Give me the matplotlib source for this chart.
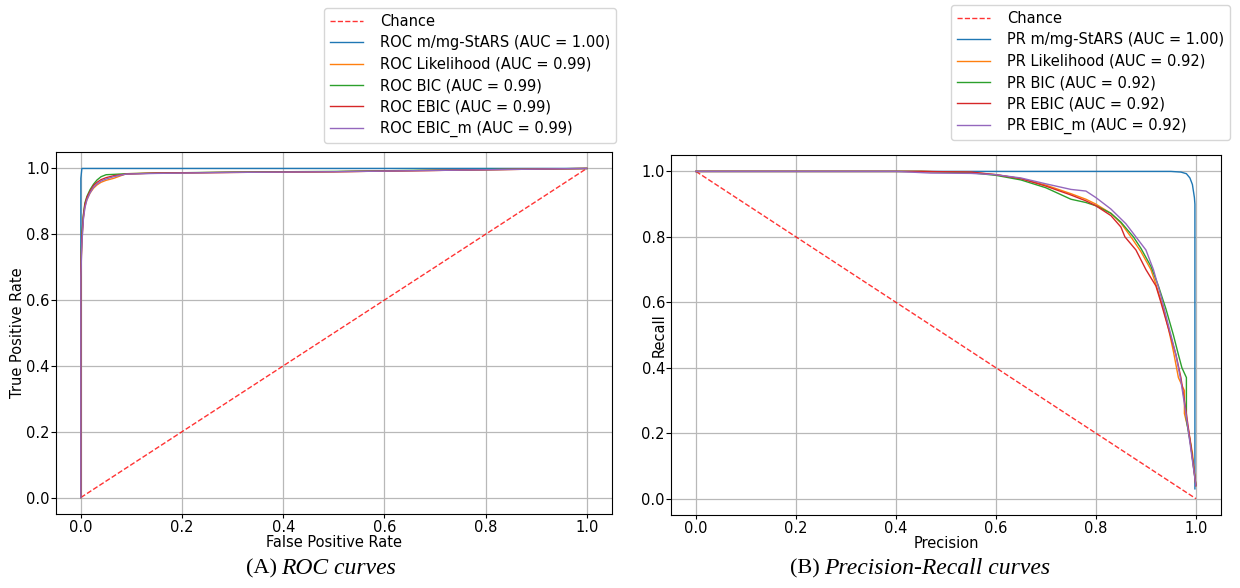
import matplotlib
matplotlib.use("Agg")
import matplotlib.pyplot as plt

# ---- ROC data (false positive rate -> true positive rate) ----
roc_fpr_stars = [0.0, 0.0, 0.002, 1.0]
roc_tpr_stars = [0.0, 0.97, 1.0, 1.0]

roc_fpr = [0.0, 0.0, 0.002, 0.005, 0.008, 0.012, 0.018, 0.025, 0.032, 0.04,
           0.05, 0.065, 0.09, 0.15, 0.3, 0.5, 0.7, 1.0]
roc_tpr_lik = [0.0, 0.68, 0.78, 0.85, 0.885, 0.905, 0.925, 0.94, 0.95, 0.958,
               0.964, 0.970, 0.984, 0.986, 0.988, 0.990, 0.994, 1.0]
roc_tpr_bic = [0.0, 0.70, 0.80, 0.86, 0.895, 0.915, 0.935, 0.952, 0.965, 0.975,
               0.981, 0.982, 0.984, 0.986, 0.989, 0.991, 0.995, 1.0]
roc_tpr_ebic = [0.0, 0.69, 0.79, 0.855, 0.89, 0.912, 0.93, 0.948, 0.958, 0.966,
                0.972, 0.978, 0.983, 0.986, 0.988, 0.990, 0.994, 1.0]
roc_tpr_ebicm = [0.0, 0.67, 0.77, 0.845, 0.88, 0.905, 0.925, 0.943, 0.953, 0.962,
                 0.968, 0.975, 0.983, 0.985, 0.988, 0.990, 0.994, 1.0]

# ---- PR data (precision -> recall) ----
pr_prec_stars = [0.0, 0.95, 0.97, 0.981, 0.988, 0.993, 0.997, 0.998, 0.998]
pr_rec_stars = [1.0, 1.0, 0.998, 0.993, 0.98, 0.96, 0.92, 0.90, 0.03]

pr_prec_lik = [0.0, 0.45, 0.55, 0.60, 0.65, 0.70, 0.75, 0.78, 0.80, 0.83, 0.85,
               0.87, 0.89, 0.91, 0.92, 0.935, 0.945, 0.955, 0.965, 0.977, 0.977,
               0.985, 0.993, 1.0]
pr_rec_lik = [1.0, 1.0, 0.997, 0.99, 0.978, 0.958, 0.932, 0.915, 0.9, 0.872, 0.842,
              0.80, 0.755, 0.70, 0.655, 0.58, 0.52, 0.45, 0.37, 0.33, 0.26,
              0.21, 0.14, 0.04]
pr_prec_bic = [0.0, 0.45, 0.55, 0.60, 0.65, 0.70, 0.75, 0.78, 0.80, 0.83, 0.85,
               0.875, 0.89, 0.91, 0.925, 0.94, 0.955, 0.965, 0.972, 0.981, 0.981,
               0.99, 1.0]
pr_rec_bic = [1.0, 1.0, 0.996, 0.988, 0.974, 0.95, 0.915, 0.905, 0.895, 0.872, 0.845,
              0.80, 0.765, 0.71, 0.65, 0.58, 0.50, 0.44, 0.40, 0.37, 0.24,
              0.16, 0.04]
pr_prec_ebic = [0.0, 0.45, 0.55, 0.60, 0.65, 0.70, 0.75, 0.78, 0.80, 0.83, 0.85,
                0.858, 0.88, 0.90, 0.92, 0.93, 0.945, 0.96, 0.97, 0.98, 0.99, 1.0]
pr_rec_ebic = [1.0, 1.0, 0.998, 0.99, 0.978, 0.955, 0.928, 0.91, 0.895, 0.865, 0.83,
               0.80, 0.76, 0.70, 0.65, 0.60, 0.52, 0.44, 0.37, 0.27, 0.16, 0.04]
pr_prec_ebicm = [0.0, 0.40, 0.47, 0.55, 0.60, 0.65, 0.70, 0.75, 0.78, 0.80, 0.83,
                 0.86, 0.885, 0.90, 0.915, 0.93, 0.945, 0.96, 0.97, 0.98, 0.99, 1.0]
pr_rec_ebicm = [1.0, 1.0, 0.995, 0.994, 0.99, 0.98, 0.962, 0.945, 0.94, 0.92, 0.885,
                0.84, 0.79, 0.76, 0.70, 0.62, 0.53, 0.44, 0.36, 0.26, 0.15, 0.04]

roc_labels = ["ROC m/mg-StARS (AUC = 1.00)", "ROC Likelihood (AUC = 0.99)",
              "ROC BIC (AUC = 0.99)", "ROC EBIC (AUC = 0.99)",
              "ROC EBIC_m (AUC = 0.99)"]
pr_labels = ["PR m/mg-StARS (AUC = 1.00)", "PR Likelihood (AUC = 0.92)",
             "PR BIC (AUC = 0.92)", "PR EBIC (AUC = 0.92)",
             "PR EBIC_m (AUC = 0.92)"]
ticks = [0.0, 0.2, 0.4, 0.6, 0.8, 1.0]

plt.rcParams['font.size'] = 10.5

fig = plt.figure(figsize=(12.4, 5.88), dpi=100)
ax1 = fig.add_axes([0.0448, 0.1259, 0.4488, 0.6156])
ax2 = fig.add_axes([0.5411, 0.1241, 0.4435, 0.6122])

# ROC panel
ax1.plot([0, 1], [0, 1], 'r--', lw=1, alpha=0.8, label="Chance")
roc_x = [roc_fpr_stars, roc_fpr, roc_fpr, roc_fpr, roc_fpr]
roc_y = [roc_tpr_stars, roc_tpr_lik, roc_tpr_bic, roc_tpr_ebic, roc_tpr_ebicm]
for i, (x, y) in enumerate(zip(roc_x, roc_y)):
    ax1.plot(x, y, color="C%d" % i, lw=1, label=roc_labels[i])
ax1.set_xlabel("False Positive Rate")
ax1.set_ylabel("True Positive Rate")

# PR panel
ax2.plot([0, 1], [1, 0], 'r--', lw=1, alpha=0.8, label="Chance")
pr_x = [pr_prec_stars, pr_prec_lik, pr_prec_bic, pr_prec_ebic, pr_prec_ebicm]
pr_y = [pr_rec_stars, pr_rec_lik, pr_rec_bic, pr_rec_ebic, pr_rec_ebicm]
for i, (x, y) in enumerate(zip(pr_x, pr_y)):
    ax2.plot(x, y, color="C%d" % i, lw=1, label=pr_labels[i])
ax2.set_xlabel("Precision")
ax2.set_ylabel("Recall")

for ax in (ax1, ax2):
    ax.set_xlim(-0.05, 1.05)
    ax.set_ylim(-0.05, 1.05)
    ax.set_xticks(ticks)
    ax.set_yticks(ticks)
    ax.grid(True, color="#b8b8b8", lw=0.9)
    ax.tick_params(axis="x", length=3, pad=1)
    ax.tick_params(axis="y", length=3.5, pad=0.8)
    ax.xaxis.set_label_coords(0.5, -0.058)

ax1.yaxis.set_label_coords(-0.055, 0.5)
ax2.yaxis.set_label_coords(-0.008, 0.5)

ax1.legend(loc="lower right", bbox_to_anchor=(0.4968, 0.7568),
           bbox_transform=fig.transFigure, borderaxespad=0, labelspacing=0.44,
           handlelength=2.3, handletextpad=1.15)
ax2.legend(loc="lower right", bbox_to_anchor=(0.9919, 0.7619),
           bbox_transform=fig.transFigure, borderaxespad=0, labelspacing=0.44,
           handlelength=2.3, handletextpad=1.15)

# sub-captions, each centred under its panel
cap_y = 1 - 569 / 588
renderer = fig.canvas.get_renderer()
for tag, title, cx in [("(A)", "ROC curves", 321), ("(B)", "Precision-Recall curves", 920)]:
    t1 = fig.text(0, cap_y, tag, ha="left", va="center",
                  family="Liberation Serif", fontsize=16)
    t2 = fig.text(0, cap_y, title, ha="left", va="center",
                  family="Liberation Serif", style="italic", fontsize=17)
    w1 = t1.get_window_extent(renderer).width
    w2 = t2.get_window_extent(renderer).width
    gap = 5
    x0 = cx - (w1 + gap + w2) / 2
    t1.set_x(x0 / 1240)
    t2.set_x((x0 + w1 + gap) / 1240)

fig.savefig("out.png", dpi=100)
plt.close(fig)
